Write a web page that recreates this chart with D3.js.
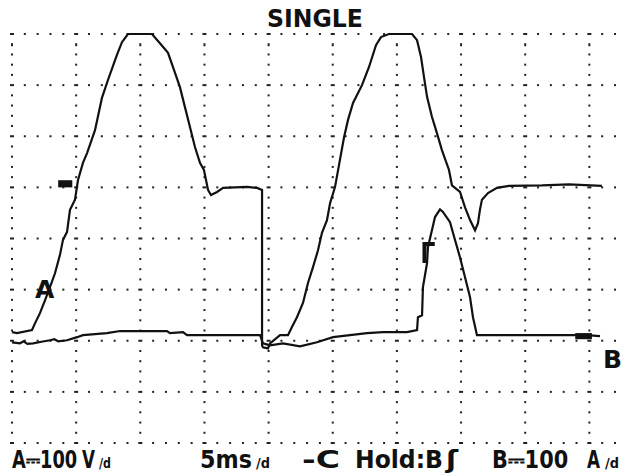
<!DOCTYPE html>
<html>
<head>
<meta charset="utf-8">
<script src="https://cdn.jsdelivr.net/npm/d3@7"></script>
<style>
  body { margin: 0; background: #fff; }
  text { font-family: "DejaVu Sans", sans-serif; font-weight: bold; fill: #111; }
</style>
</head>
<body>
<div id="scope"></div>
<script>
// time in ms (5 ms/div), trace A in volts (100 V/div), trace B in amps (100 A/div)
var traceA = [
  [0,-283],[0.39,-285],[1.56,-279],[1.79,-266],[2.18,-246],[2.57,-221],[2.96,-195],[3.35,-168],
  [3.74,-132],[3.97,-103],[4.29,-87],[4.52,-44],[4.91,-24],[5.14,14],[5.53,48],[5.85,67],
  [6.47,112],[7.01,175],[7.48,210],[8.18,259],[8.57,284],[9.04,300],[10.91,300],[11.53,282],
  [12.16,263],[12.55,235],[13.09,196],[13.48,157],[13.87,118],[14.26,79],[14.65,48],[14.96,34],
  [15.28,-5],[15.51,-15],[15.98,-9],[16.45,-1],[18.32,1],[19.10,-1],[19.49,-5],[19.49,-309],
  [19.56,-313],[19.95,-315],[20.11,-305],[20.89,-289],[21.51,-289],[21.82,-273],[22.21,-254],
  [22.68,-226],[23.07,-187],[23.46,-156],[23.85,-123],[24.16,-89],[24.55,-64],[24.79,-31],
  [25.18,1],[25.49,44],[25.88,98],[26.19,132],[26.58,165],[27.28,200],[27.82,235],[28.37,278],
  [28.76,294],[29.38,300],[31.18,300],[31.57,288],[31.88,255],[32.11,216],[32.35,177],
  [32.73,138],[33.12,106],[33.51,73],[34.06,34],[34.29,4],[34.92,-9],[35.31,-39],[35.70,-64],
  [36.09,-84],[36.32,-70],[36.47,-44],[36.63,-24],[37.10,-11],[37.80,-1],[38.74,3],[41.31,4],
  [43.41,6],[45.98,3]
];
var traceB = [
  [0,-10],[0.62,-12],[0.9,-8],[1.2,-13],[1.64,-12],[2.3,-9],[2.96,-6],[3.3,-4],[3.6,-8],
  [4.29,-6],[5.07,0],[5.53,4],[7.40,8],[8.42,12],[10.52,12],[12.08,12],[12.31,8],[13.33,10],
  [13.64,4],[15.98,4],[19.33,4],[19.56,-12],[20.11,-16],[21.12,-12],[22.45,-18],[23.77,-10],
  [25.02,0],[26.34,4],[27.67,8],[28.92,10],[30.79,10],[31.57,14],[31.64,39],[31.96,43],
  [32.03,98],[32.35,145],[32.42,176],[32.73,209],[32.97,235],[33.36,250],[33.59,245],
  [34.14,225],[34.53,190],[34.92,156],[35.31,117],[35.70,78],[35.93,39],[36.24,4],[38.03,4],
  [40.61,4],[43.26,4],[44.81,4],[45.83,2]
];

var gridTimes = [0, 5, 10, 15, 20, 25, 30, 35, 40, 45];   // ms, one per division
var gridDivs = [0, 1, 2, 3, 4, 5, 6, 7, 8];

var title = "SINGLE";
var scaleA = "A\u2393100", unitA = "V", timeBase = "5ms", trigIcon = "-C",
    holdText = "Hold:B", slope = "\u0283", scaleB = "B\u2393100", unitB = "A", perDiv = "/d";

var width = 629, height = 476;

var svg = d3.select("#scope")
  .append("svg")
    .attr("width", width)
    .attr("height", height);

svg.append("rect").attr("width", width).attr("height", height).attr("fill", "#fff");

var x = d3.scaleLinear().domain([0, 50]).range([12, 653.5]);
var yDiv = d3.scaleLinear().domain([0, 8]).range([443, 34]);
var yA = d3.scaleLinear().domain([-500, 300]).range([443, 34]);
var yB = d3.scaleLinear().domain([-207, 593]).range([443, 34]);

// dotted graticule
var grid = svg.append("g").attr("fill", "#222");
gridDivs.forEach(function(k) {
  d3.range(0, 48).forEach(function(j) {
    var major = j % 5 === 0;
    grid.append("rect")
      .attr("x", x(j) - (major ? 2 : 1))
      .attr("y", yDiv(k) - 1)
      .attr("width", major ? 4 : 2)
      .attr("height", 2);
  });
});
gridTimes.forEach(function(t) {
  d3.range(0, 41).forEach(function(m) {
    if (m % 5 === 0) return;
    grid.append("rect")
      .attr("x", x(t) - 1)
      .attr("y", yDiv(m / 5) - 1)
      .attr("width", 2)
      .attr("height", m % 5 === 4 && m > 35 ? 3 : 2);
  });
});

// traces
var lineA = d3.line().x(d => x(d[0])).y(d => yA(d[1]));
var lineB = d3.line().x(d => x(d[0])).y(d => yB(d[1]));

svg.append("path")
  .datum(traceB)
  .attr("d", lineB)
  .attr("fill", "none")
  .attr("stroke", "#111")
  .attr("stroke-width", 2.2);

svg.append("path")
  .datum(traceA)
  .attr("d", lineA)
  .attr("fill", "none")
  .attr("stroke", "#111")
  .attr("stroke-width", 2.2);

// markers
svg.append("rect")
  .attr("x", x(3.6)).attr("y", yA(14))
  .attr("width", x(4.7) - x(3.6)).attr("height", yA(0) - yA(14))
  .attr("fill", "#111");

svg.append("rect")
  .attr("x", x(43.9)).attr("y", yB(8))
  .attr("width", x(45.2) - x(43.9)).attr("height", yB(-4) - yB(8))
  .attr("fill", "#111");

svg.append("path")
  .attr("d", "M" + x(32.15) + "," + yB(145) + "V" + yB(182) + "H" + x(32.95))
  .attr("fill", "none")
  .attr("stroke", "#111")
  .attr("stroke-width", 4);

svg.append("text")
  .attr("x", x(1.8)).attr("y", yA(-216))
  .attr("font-size", 25)
  .text("A");

svg.append("text")
  .attr("x", x(46.06)).attr("y", yB(-60))
  .attr("font-size", 25)
  .text("B");

// labels: squeeze each one horizontally so it spans x0..x1
function label(str, x0, x1, y, size) {
  var t = svg.append("text")
    .attr("font-size", size)
    .text(str);
  var len = t.node().getComputedTextLength() || (x1 - x0);
  t.attr("transform", "translate(" + x0 + "," + y + ") scale(" + ((x1 - x0) / len) + ",1)");
  return t;
}

label(title, 267, 363, 27, 24);

label(scaleA, 12, 77, 468, 24);
label(unitA, 82, 95, 468, 24);
label(perDiv, 99, 111, 468, 14);
label(timeBase, 200, 252, 468, 24);
label(perDiv, 256, 270, 468, 14);
label(trigIcon, 302, 340, 468, 24);
label(holdText, 355, 443, 468, 24);
label(slope, 446, 458, 468, 24);
label(scaleB, 492, 568, 468, 24);
label(unitB, 587, 600, 468, 24);
label(perDiv, 605, 619, 468, 14);
</script>
</body>
</html>
